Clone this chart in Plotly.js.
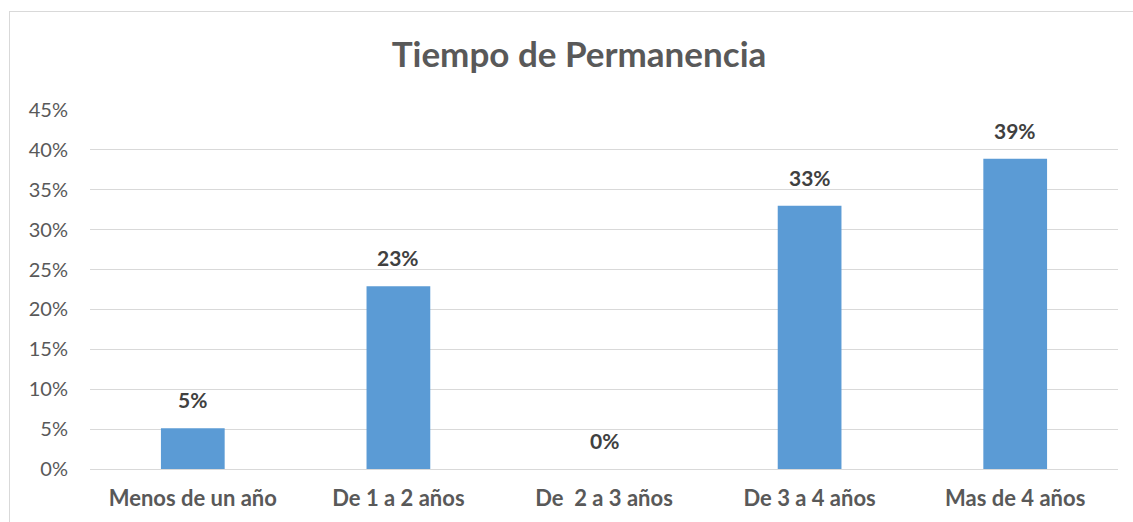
<!DOCTYPE html>
<html>
<head>
<meta charset="utf-8">
<script src="https://cdn.plot.ly/plotly-3.0.1.min.js"></script>
<style>
  html, body { margin: 0; padding: 0; background: #fff; }
  #wrap { position: relative; width: 1133px; height: 522px; overflow: hidden; }
  #chart { position: absolute; left: 0; top: 0; width: 1133px; height: 522px; }
  #frame { position: absolute; left: 9px; top: 11px; width: 1140px; height: 530px; border: 1px solid #d9d9d9; pointer-events: none; }
</style>
</head>
<body>
<div id="wrap">
  <div id="chart"></div>
  <div id="frame"></div>
</div>
<script>
const categories = ["Menos de un año", "De 1 a 2 años", "De  2 a 3 años", "De 3 a 4 años", "Mas de 4 años"];
const values = [5.1, 22.9, 0, 33, 38.9];
const labels = ["5%", "23%", "0%", "33%", "39%"];
const yTicks = [0, 5, 10, 15, 20, 25, 30, 35, 40, 45];

const FONT = "Lato, 'Open Sans', sans-serif";

const trace = {
  type: "bar",
  x: categories,
  y: values,
  marker: { color: "#5B9BD5" },
  hoverinfo: "skip"
};

const annotations = categories.map((c, i) => ({
  x: c,
  y: values[i],
  xref: "x",
  yref: "y",
  text: "<b>" + labels[i] + "</b>",
  showarrow: false,
  yanchor: "bottom",
  yshift: 14,
  font: { family: FONT, size: 21, color: "#404040" }
}));

const layout = {
  width: 1133,
  height: 522,
  margin: { l: 90, r: 15, t: 110, b: 53 },
  paper_bgcolor: "rgba(0,0,0,0)",
  plot_bgcolor: "#ffffff",
  showlegend: false,
  bargap: 0.69,
  title: {
    text: "<b>Tiempo de Permanencia</b>",
    font: { family: FONT, size: 35, color: "#595959" },
    x: 579 / 1133,
    xanchor: "center",
    xref: "container",
    y: 1 - 55 / 522,
    yanchor: "middle",
    yref: "container"
  },
  xaxis: {
    type: "category",
    tickfont: { family: FONT, size: 22, color: "#595959", weight: "bold" },
    showgrid: false,
    zeroline: false,
    showline: false,
    ticks: "",
    ticklabelstandoff: 14,
    fixedrange: true
  },
  yaxis: {
    range: [0, 45],
    tickvals: yTicks,
    ticktext: yTicks.map(v => v + "%"),
    tickfont: { family: FONT, size: 20, color: "#595959" },
    showgrid: true,
    gridcolor: "#d9d9d9",
    gridwidth: 1,
    zeroline: true,
    zerolinecolor: "#d9d9d9",
    zerolinewidth: 1,
    showline: false,
    ticks: "",
    ticklabelstandoff: 21,
    fixedrange: true
  },
  annotations: annotations
};

Plotly.newPlot("chart", [trace], layout, { displayModeBar: false, staticPlot: true });
</script>
</body>
</html>
